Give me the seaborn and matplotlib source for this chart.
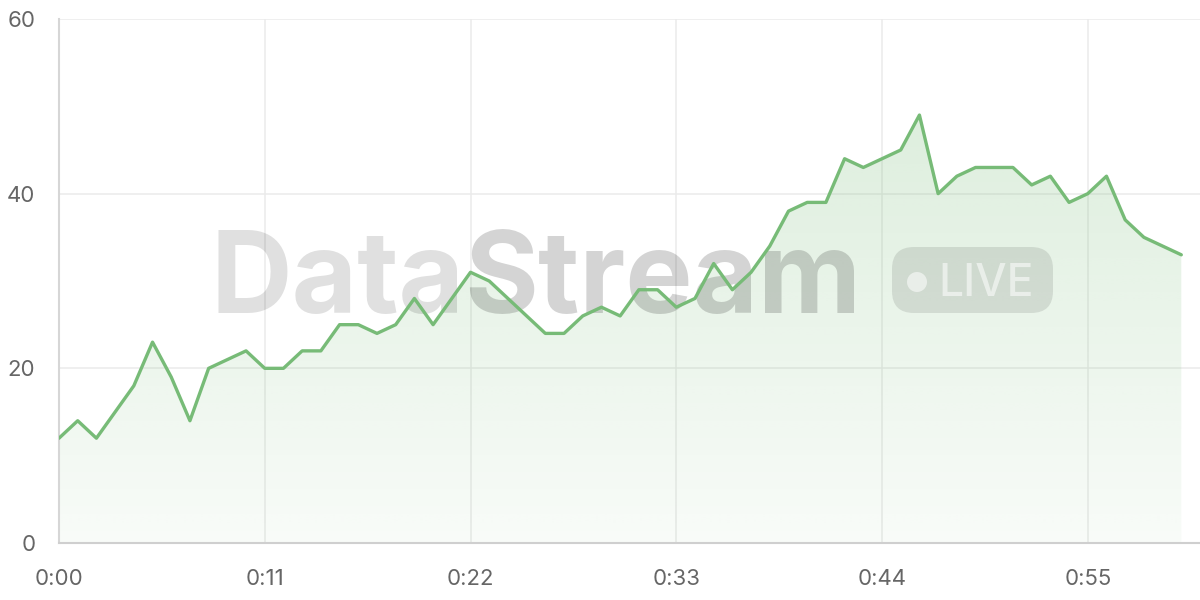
import numpy as np
import pandas as pd
import matplotlib
matplotlib.use("Agg")
import matplotlib.pyplot as plt
import seaborn as sns
from matplotlib.patches import FancyBboxPatch, Circle
from matplotlib.transforms import IdentityTransform

# ---- data ----
seconds = list(range(61))
values = [12, 14, 12, 15, 18, 23, 19, 14, 20, 21,
          22, 20, 20, 22, 22, 25, 25, 24, 25, 28,
          25, 28, 31, 30, 28, 26, 24, 24, 26, 27,
          26, 29, 29, 27, 28, 32, 29, 31, 34, 38,
          39, 39, 44, 43, 44, 45, 49, 40, 42, 43,
          43, 43, 41, 42, 39, 40, 42, 37, 35, 34, 33]
x_ticks = [0, 11, 22, 33, 44, 55]
x_tick_labels = ["0:00", "0:11", "0:22", "0:33", "0:44", "0:55"]
y_ticks = [0, 20, 40, 60]
watermark_parts = ["Data", "Stream"]
badge_text = "LIVE"

df = pd.DataFrame({"t": seconds, "v": values})

sns.set_theme(style="white")
plt.rcParams["font.family"] = ["Inter", "DejaVu Sans"]

W, H = 1200, 600
fig = plt.figure(figsize=(12, 6), dpi=100)
ax = fig.add_axes([59 / W, (H - 543) / H, (1200 - 59) / W, (543 - 19) / H])

line_color = "#77bb77"
grid_color = "#ebebeb"

# gradient fill under curve
poly = ax.fill_between(df["t"], df["v"], 0, color="none", lw=0, zorder=1)
ymax_fill = 50
grad = np.zeros((256, 2, 4))
rgb = matplotlib.colors.to_rgb(line_color)
grad[..., 0], grad[..., 1], grad[..., 2] = rgb
alphas = np.linspace(0.25, 0.05, 256)  # top -> bottom
grad[..., 3] = alphas[:, None]
im = ax.imshow(grad, extent=[0, 60, 0, ymax_fill], aspect="auto", origin="upper",
               zorder=1, interpolation="bilinear")
im.set_clip_path(poly.get_paths()[0], transform=ax.transData)

sns.lineplot(data=df, x="t", y="v", ax=ax, color=line_color, linewidth=2.4, zorder=5)

ax.set_xlim(0, 61)
ax.set_ylim(0, 60)
ax.set_xticks(x_ticks)
ax.set_xticklabels(x_tick_labels)
ax.set_yticks(y_ticks)
ax.set_xlabel("")
ax.set_ylabel("")
ax.grid(True, color=grid_color, linewidth=1.1, zorder=0)
ax.set_axisbelow(True)
ax.tick_params(axis="both", length=11, width=1.1, color=grid_color,
               labelsize=16, labelcolor="#666666", pad=6)
ax.tick_params(axis="x", pad=8)
for s in ["top", "right"]:
    ax.spines[s].set_visible(False)
ax.spines["left"].set_color("#d6d6d6")
ax.spines["left"].set_linewidth(1.5)
ax.spines["bottom"].set_color("#cfcfcf")
ax.spines["bottom"].set_linewidth(1.5)
ax.spines["left"].set_zorder(2)
ax.spines["bottom"].set_zorder(2)

# ---- watermark (inside axes so the line stays on top) ----
ident = IdentityTransform()
fig.canvas.draw()
renderer = fig.canvas.get_renderer()

base_size = 80
t1 = ax.text(210, H - 313, watermark_parts[0], transform=ident, fontsize=base_size,
             fontweight="bold", color=(0, 0, 0, 0.12), ha="left", va="baseline",
             zorder=3, clip_on=False)
w1 = t1.get_window_extent(renderer).width
t2 = ax.text(210 + w1, H - 313, watermark_parts[1], transform=ident, fontsize=base_size,
             fontweight="bold", color=(0, 0, 0, 0.17), ha="left", va="baseline",
             zorder=3, clip_on=False)
w2 = t2.get_window_extent(renderer).width
scale = 652 / (w1 + w2)
t1.set_fontsize(base_size * scale)
t2.set_fontsize(base_size * scale)
fig.canvas.draw()
w1 = t1.get_window_extent(renderer).width
t2.set_position((210 + w1, H - 313))

badge = FancyBboxPatch((892, H - 313), 161, 66, boxstyle="round,pad=0,rounding_size=22",
                       transform=ident, facecolor=(0, 0, 0, 0.10), edgecolor="none",
                       zorder=3, clip_on=False)
ax.add_artist(badge)
dot = Circle((917, H - 282), 10, transform=ident, facecolor=(1, 1, 1, 0.55),
             edgecolor="none", zorder=4, clip_on=False)
ax.add_artist(dot)
t3 = ax.text(938, H - 296, badge_text, transform=ident, fontsize=34,
             fontweight="medium", color=(1, 1, 1, 0.55), ha="left", va="baseline",
             zorder=4, clip_on=False)
w3 = t3.get_window_extent(renderer).width
t3.set_fontsize(34 * 95 / w3)

fig.savefig("out.png", dpi=100)
